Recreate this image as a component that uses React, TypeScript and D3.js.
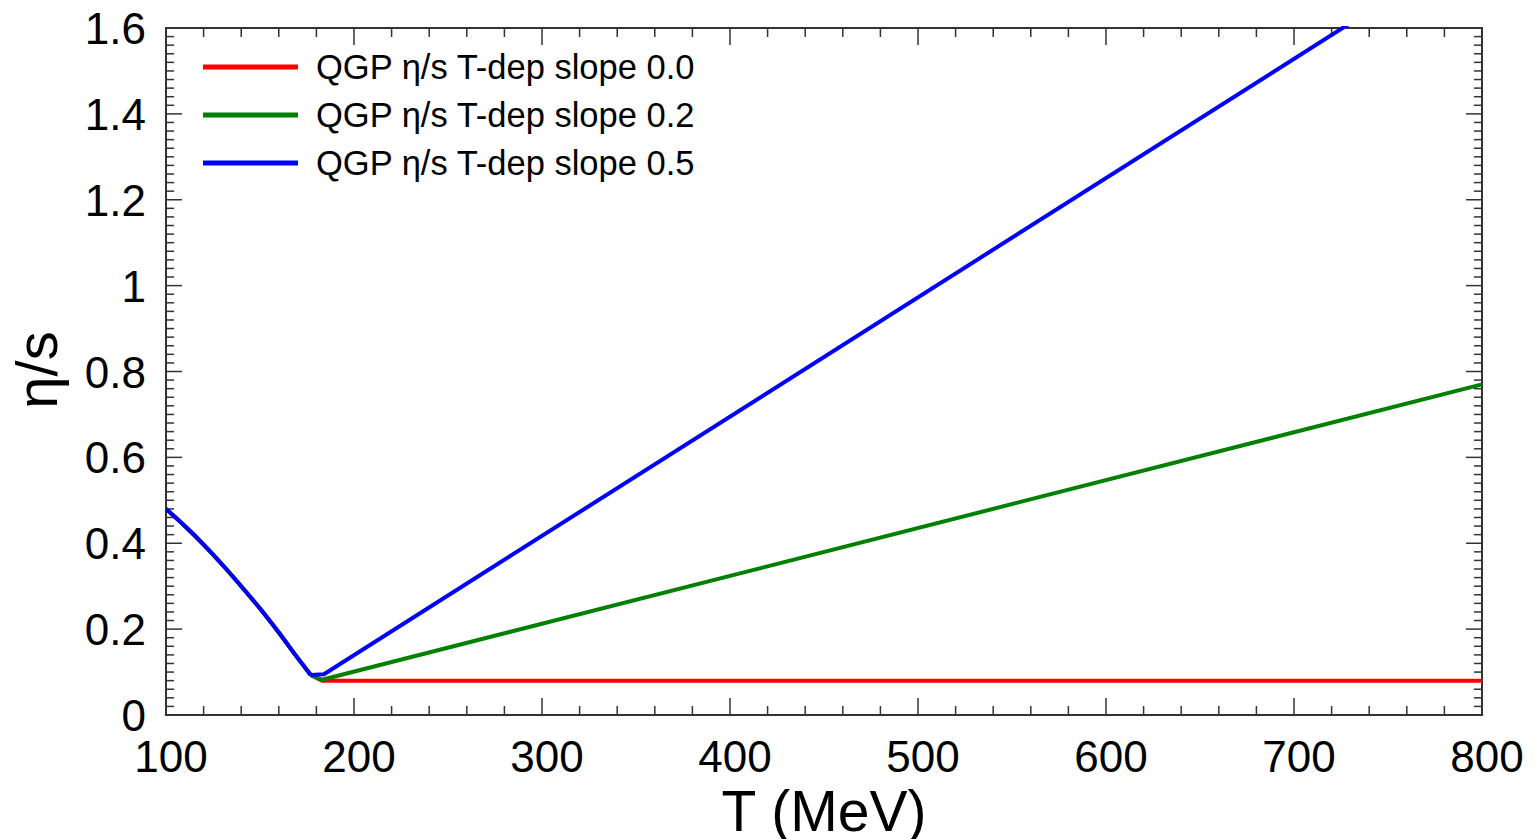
import React from "react";
import * as d3 from "d3";

const xTicks = [100, 200, 300, 400, 500, 600, 700, 800];
const yTicks = [0, 0.2, 0.4, 0.6, 0.8, 1, 1.2, 1.4, 1.6];
const yTickLabels = ["0", "0.2", "0.4", "0.6", "0.8", "1", "1.2", "1.4", "1.6"];

// hadronic branch (shared by all three curves)
const hadronT = [100, 110, 120, 130, 140, 150, 160, 170, 177];
const hadronEta = [0.48, 0.44, 0.397, 0.35, 0.3, 0.248, 0.192, 0.133, 0.093];

// QGP branches
const seriesNames = [
  "QGP \u03b7/s T-dep slope 0.0",
  "QGP \u03b7/s T-dep slope 0.2",
  "QGP \u03b7/s T-dep slope 0.5",
];
const seriesColors = ["#ff0000", "#008000", "#0000ff"];
const qgpT = [
  [183, 800],
  [183, 800],
  [184, 800],
];
const qgpEta = [
  [0.08, 0.08],
  [0.082, 0.77],
  [0.095, 1.806],
];

const W = 1535;
const H = 839;
const L = 166, R = 1482, T = 28, B = 715;

export default function App() {
  const x = d3.scaleLinear().domain([100, 800]).range([L, R]);
  const y = d3.scaleLinear().domain([0, 1.6]).range([B, T]);
  const hadronLine = d3
    .line<[number, number]>()
    .x((d) => x(d[0]))
    .y((d) => y(d[1]))
    .curve(d3.curveMonotoneX);
  const line = d3
    .line<[number, number]>()
    .x((d) => x(d[0]))
    .y((d) => y(d[1]));

  const xMinor = d3.range(100, 800.001, 20);
  const yMinor = d3.range(0, 1.6001, 0.02);
  const isMajorX = (v: number) => Math.abs(v / 100 - Math.round(v / 100)) < 1e-6;
  const isMajorY = (v: number) => Math.abs(v / 0.2 - Math.round(v / 0.2)) < 1e-6;

  const hadronPts: [number, number][] = hadronT.map((t, j) => [t, hadronEta[j]]);
  const hadronPath = hadronLine(hadronPts) as string;
  const paths = seriesNames.map((_, i) => {
    const pts: [number, number][] = [hadronPts[hadronPts.length - 1]];
    qgpT[i].forEach((t, j) => pts.push([t, qgpEta[i][j]]));
    return line(pts) as string;
  });

  const axisColor = "#333";
  const font = "'Liberation Sans', Arial, sans-serif";

  return (
    <svg
      width={W}
      height={H}
      style={{ position: "absolute", left: 0, top: 0, background: "#fff" }}
      fontFamily={font}
    >
      <defs>
        <clipPath id="plotclip">
          <rect x={L} y={T - 2} width={R - L + 4} height={B - T + 4} />
        </clipPath>
      </defs>
      <rect x={0} y={0} width={W} height={H} fill="#fff" />

      {/* ticks */}
      {xMinor.map((v, i) => {
        const len = isMajorX(v) ? 17 : 9;
        const xx = x(v);
        return (
          <g key={"xt" + i} stroke={axisColor} strokeWidth={1.5}>
            <line x1={xx} x2={xx} y1={B} y2={B - len} />
            <line x1={xx} x2={xx} y1={T} y2={T + len} />
          </g>
        );
      })}
      {yMinor.map((v, i) => {
        const len = isMajorY(v) ? 16 : 8;
        const yy = y(v);
        return (
          <g key={"yt" + i} stroke={axisColor} strokeWidth={1.5}>
            <line x1={L} x2={L + len} y1={yy} y2={yy} />
            <line x1={R} x2={R - len} y1={yy} y2={yy} />
          </g>
        );
      })}

      {/* frame */}
      <rect x={L} y={T} width={R - L} height={B - T} fill="none" stroke={axisColor} strokeWidth={2} />

      {/* curves */}
      <g clipPath="url(#plotclip)">
        {paths.map((d, i) => (
          <g key={i}>
            <path d={hadronPath} fill="none" stroke={seriesColors[i]} strokeWidth={4} strokeLinejoin="round" />
            <path d={d} fill="none" stroke={seriesColors[i]} strokeWidth={4} strokeLinejoin="round" />
          </g>
        ))}
      </g>

      {/* tick labels */}
      {xTicks.map((v) => (
        <text key={"xl" + v} x={x(v) + 5} y={772} fontSize={44} textAnchor="middle" fill="#000">
          {v}
        </text>
      ))}
      {yTicks.map((v, i) => (
        <text key={"yl" + i} x={146} y={y(v) + 16} fontSize={44} textAnchor="end" fill="#000">
          {yTickLabels[i]}
        </text>
      ))}

      {/* axis titles */}
      <text x={824} y={831} fontSize={57} textAnchor="middle" fill="#000">
        T (MeV)
      </text>
      <text
        transform={`translate(57,370) rotate(-90)`}
        fontSize={58}
        textAnchor="middle"
        fill="#000"
      >
        η/s
      </text>

      {/* legend */}
      {seriesNames.map((name, i) => {
        const yy = 67 + i * 48;
        return (
          <g key={"lg" + i}>
            <line x1={203} x2={298} y1={yy} y2={yy} stroke={seriesColors[i]} strokeWidth={5} />
            <text x={316} y={yy + 12} fontSize={34.5} fill="#000">
              {name}
            </text>
          </g>
        );
      })}
    </svg>
  );
}
